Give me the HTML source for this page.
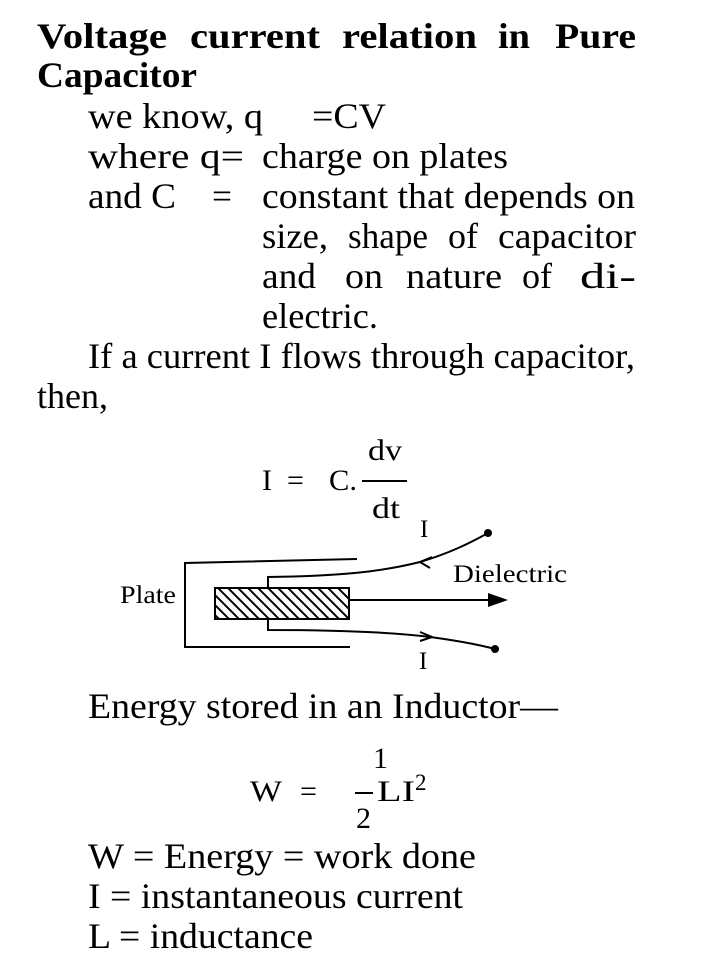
<!DOCTYPE html>
<html><head><meta charset="utf-8"><style>
html,body{margin:0;padding:0;background:#fff;}
svg{display:block;}
text{font-family:"Liberation Serif",serif;fill:#000;}
</style></head><body>
<svg width="718" height="968" viewBox="0 0 718 968" xmlns="http://www.w3.org/2000/svg">
<g font-weight="bold" font-size="36">
<text x="37" y="48" textLength="130" lengthAdjust="spacingAndGlyphs">Voltage</text>
<text x="190" y="48" textLength="130" lengthAdjust="spacingAndGlyphs">current</text>
<text x="342" y="48" textLength="135" lengthAdjust="spacingAndGlyphs">relation</text>
<text x="498" y="48" textLength="32" lengthAdjust="spacingAndGlyphs">in</text>
<text x="555" y="48" textLength="81" lengthAdjust="spacingAndGlyphs">Pure</text>
<text x="37" y="87" textLength="160" lengthAdjust="spacingAndGlyphs">Capacitor</text>
</g>
<g font-size="36">
<text x="88" y="128" textLength="175" lengthAdjust="spacingAndGlyphs">we know, q</text>
<text x="312" y="128" textLength="74" lengthAdjust="spacingAndGlyphs">=CV</text>
<text x="88" y="168" textLength="156" lengthAdjust="spacingAndGlyphs">where q=</text>
<text x="262" y="168" textLength="246" lengthAdjust="spacingAndGlyphs">charge on plates</text>
<text x="88" y="208" textLength="88" lengthAdjust="spacingAndGlyphs">and C</text>
<text x="212" y="208" textLength="20" lengthAdjust="spacingAndGlyphs">=</text>
<text x="262" y="208" textLength="373" lengthAdjust="spacingAndGlyphs">constant that depends on</text>
<text x="262" y="248" textLength="66" lengthAdjust="spacingAndGlyphs">size,</text>
<text x="348" y="248" textLength="80" lengthAdjust="spacingAndGlyphs">shape</text>
<text x="448" y="248" textLength="30" lengthAdjust="spacingAndGlyphs">of</text>
<text x="498" y="248" textLength="138" lengthAdjust="spacingAndGlyphs">capacitor</text>
<text x="262" y="288" textLength="54" lengthAdjust="spacingAndGlyphs">and</text>
<text x="345" y="288" textLength="38" lengthAdjust="spacingAndGlyphs">on</text>
<text x="406" y="288" textLength="96" lengthAdjust="spacingAndGlyphs">nature</text>
<text x="522" y="288" textLength="30" lengthAdjust="spacingAndGlyphs">of</text>
<text x="580" y="288" textLength="56" lengthAdjust="spacingAndGlyphs">di-</text>
<text x="262" y="328" textLength="116" lengthAdjust="spacingAndGlyphs">electric.</text>
<text x="88" y="368" textLength="547" lengthAdjust="spacingAndGlyphs">If a current I flows through capacitor,</text>
<text x="37" y="408" textLength="71" lengthAdjust="spacingAndGlyphs">then,</text>
</g>
<g font-size="30">
<text x="368" y="460" textLength="34" lengthAdjust="spacingAndGlyphs">dv</text>
<text x="262" y="490">I</text>
<text x="287" y="490">=</text>
<text x="329" y="490" textLength="28" lengthAdjust="spacingAndGlyphs">C.</text>
<text x="372" y="518" textLength="28" lengthAdjust="spacingAndGlyphs">dt</text>
</g>
<line x1="362" y1="481" x2="407" y2="481" stroke="#000" stroke-width="2"/>
<g fill="none" stroke="#000" stroke-width="2">
<polyline points="357,559 185,563 185,647 350,647"/>
<defs><pattern id="h" width="10" height="10" patternUnits="userSpaceOnUse"><path d="M-2,-2 L12,12 M-12,-2 L2,12 M8,-2 L22,12" stroke="#000" stroke-width="2"/></pattern></defs>
<rect x="215" y="588" width="134" height="31" fill="url(#h)"/>
<path d="M268,588 L268,577 C340,576 380,572 420,562 C450,553 470,543 488,533"/>
<path d="M268,619 L268,630 C330,630 390,632 430,637 C460,641 480,645 495,649"/>
<path d="M432,557 L420,562 L430,568"/>
<path d="M420,632 L432,637 L420,641"/>
<line x1="349" y1="600" x2="495" y2="600"/>
</g>
<path d="M508,600 L488,593 L488,607 Z" fill="#000"/>
<circle cx="488" cy="533" r="4" fill="#000"/>
<circle cx="495" cy="649" r="4" fill="#000"/>
<g font-size="25">
<text x="420" y="537">I</text>
<text x="419" y="669">I</text>
<text x="453" y="582" textLength="114" lengthAdjust="spacingAndGlyphs">Dielectric</text>
<text x="120" y="603" textLength="56" lengthAdjust="spacingAndGlyphs">Plate</text>
</g>
<g font-size="36">
<text x="88" y="718" textLength="470" lengthAdjust="spacingAndGlyphs">Energy stored in an Inductor—</text>
</g>
<g font-size="30">
<text x="373" y="768">1</text>
<text x="250" y="801" textLength="32" lengthAdjust="spacingAndGlyphs">W</text>
<text x="300" y="801">=</text>
<text x="377" y="801" textLength="38" lengthAdjust="spacingAndGlyphs">LI</text>
<text x="415" y="790" font-size="23">2</text>
<text x="356" y="828">2</text>
</g>
<line x1="355" y1="793" x2="373" y2="793" stroke="#000" stroke-width="2"/>
<g font-size="36">
<text x="88" y="868" textLength="388" lengthAdjust="spacingAndGlyphs">W = Energy = work done</text>
<text x="88" y="908" textLength="375" lengthAdjust="spacingAndGlyphs">I = instantaneous current</text>
<text x="88" y="948" textLength="225" lengthAdjust="spacingAndGlyphs">L = inductance</text>
</g>
</svg>
</body></html>
